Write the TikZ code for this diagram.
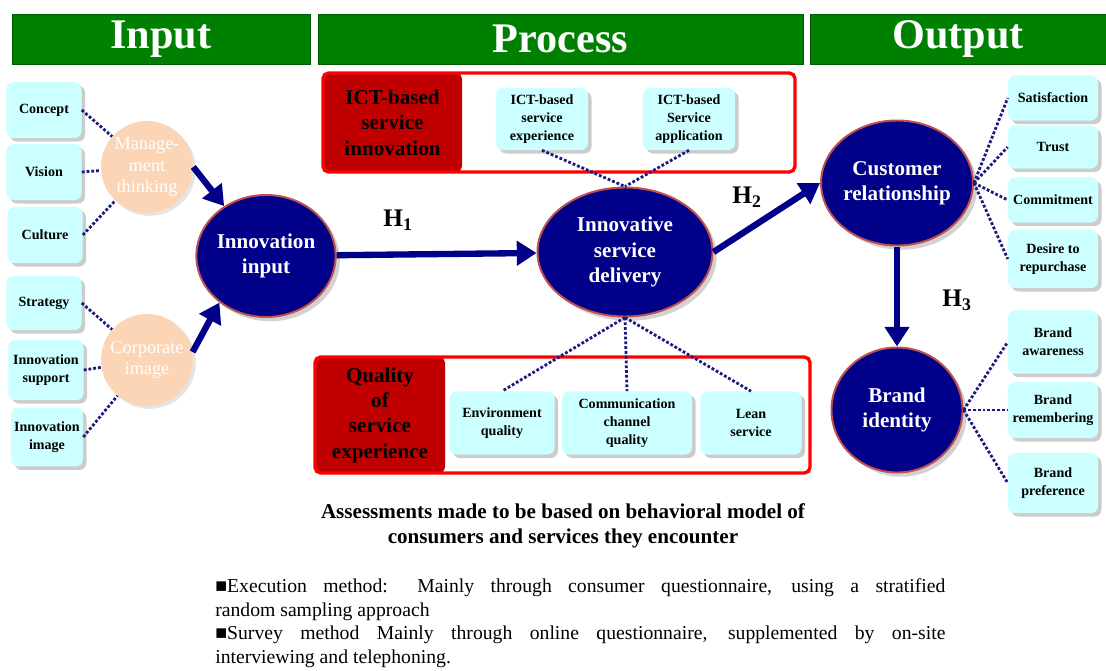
\documentclass[tikz,border=0pt]{standalone}
\usepackage{fontspec}
\setmainfont{Liberation Serif}
\usetikzlibrary{positioning,arrows.meta,shapes.geometric,shadows}
\definecolor{hdgreen}{HTML}{008000}
\definecolor{lfcyan}{HTML}{CCFFFF}
\definecolor{peach}{HTML}{FBD5B5}
\definecolor{hubnavy}{HTML}{000088}
\definecolor{hubrim}{HTML}{C0504D}
\definecolor{labred}{HTML}{C00000}
\definecolor{frred}{HTML}{FF0000}
\definecolor{dotnavy}{HTML}{1A1A80}
\newcommand{\fs}[2]{\fontsize{#1}{#2}\selectfont}
\newcommand{\hyp}[1]{\textbf{H}\textsubscript{\textbf{#1}}}

\begin{document}
\begin{tikzpicture}[x=0.025cm,y=-0.025cm,
  hd/.style={rectangle,fill=hdgreen,draw=hdgreen!70!black,text=white,font=\bfseries\fs{30}{32},inner sep=0pt,minimum height=1.25cm},
  leaf/.style={rectangle,rounded corners=5pt,fill=lfcyan,drop shadow={shadow xshift=2.5pt,shadow yshift=-2.5pt,fill=black!40},align=center,font=\bfseries\fs{10}{13},inner sep=1pt},
  pch/.style={circle,fill=peach,drop shadow={shadow xshift=2pt,shadow yshift=-2pt,fill=black!20},text=white,align=center,font=\fs{13}{15},inner sep=0pt,minimum size=2.3cm},
  hub/.style={ellipse,fill=hubnavy,draw=hubrim,line width=1.4pt,drop shadow={shadow xshift=3pt,shadow yshift=-3pt,fill=black!35},text=white,align=center,font=\bfseries\fs{15}{18},inner sep=0pt},
  lab/.style={rectangle,rounded corners=4pt,fill=labred,align=center,font=\bfseries\fs{15}{18},inner sep=0pt},
  fr/.style={draw=frred,line width=2.4pt,rounded corners=4pt},
  dt/.style={draw=dotnavy,line width=2pt,dash pattern=on 2pt off 1.4pt},
  big/.style={draw=hubnavy,line width=4.5pt,-{Triangle[length=14pt,width=17pt]}},
  hl/.style={font=\fs{18}{20}}]
  \useasboundingbox (0,0) rectangle (1106,671);
  % headers
  \node[hd,minimum width=7.45cm] (hin) at (161,39) {Input};
  \node[hd,minimum width=12.125cm] (hpr) at (560.5,39) {Process};
  \node[hd,minimum width=7.4cm] (hout) at (958,39) {Output};
  % input side
  \node[leaf,minimum width=1.875cm,minimum height=1.4cm] (concept) at (44,110) {Concept};
  \node[leaf,minimum width=1.875cm,minimum height=1.4cm] (vision) at (44,172) {Vision};
  \node[leaf,minimum width=1.875cm,minimum height=1.4cm] (culture) at (45,235) {Culture};
  \node[leaf,minimum width=1.875cm,minimum height=1.35cm] (strat) at (44,303) {Strategy};
  \node[leaf,minimum width=1.875cm,minimum height=1.5cm] (isup) at (46,370) {Innovation\\support};
  \node[leaf,minimum width=1.8cm,minimum height=1.47cm] (iimg) at (47,437) {Innovation\\image};
  \node[pch] (mgmt) at (147,167) {Manage-\\ment\\thinking};
  \node[pch] (corp) at (147,360) {Corporate\\image};
  \node[hub,minimum width=3.175cm,minimum height=3.05cm] (inp) at (266,256) {Innovation\\input};
  % process
  \node[lab,minimum width=3.475cm,minimum height=2.475cm] (ictlab) at (392.5,122.5) {ICT-based\\service\\innovation};
  \draw[fr] (323,73) rectangle (795,172);
  \node[leaf,minimum width=2.3cm,minimum height=1.55cm] (ictexp) at (542,119) {ICT-based\\service\\experience};
  \node[leaf,minimum width=2.3cm,minimum height=1.55cm] (ictapp) at (689,119) {ICT-based\\Service\\application};
  \node[hub,minimum width=4.375cm,minimum height=3.225cm] (isd) at (625,252) {Innovative\\service\\delivery};
  \node[lab,minimum width=3.25cm,minimum height=2.9cm] (qlab) at (380,415) {Quality\\of\\service\\experience};
  \draw[fr] (315,357) rectangle (810,473);
  \node[leaf,minimum width=2.625cm,minimum height=1.575cm] (env) at (502,423) {Environment\\quality};
  \node[leaf,minimum width=3.25cm,minimum height=1.575cm] (comm) at (627,423) {Communication\\channel\\quality};
  \node[leaf,minimum width=2.525cm,minimum height=1.575cm] (lean) at (751,423) {Lean\\service};
  % output
  \node[hub,minimum width=3.275cm,minimum height=3.125cm] (cr) at (897,183) {Customer\\relationship};
  \node[hub,minimum width=3.275cm,minimum height=3.125cm] (bi) at (897,410) {Brand\\identity};
  \node[leaf,minimum width=2.25cm,minimum height=1.125cm] (sat) at (1053,98) {Satisfaction};
  \node[leaf,minimum width=2.25cm,minimum height=1.075cm] (trust) at (1053,147) {Trust};
  \node[leaf,minimum width=2.25cm,minimum height=1.125cm] (commit) at (1053,200) {Commitment};
  \node[leaf,minimum width=2.25cm,minimum height=1.45cm] (desire) at (1053,259) {Desire to\\repurchase};
  \node[leaf,minimum width=2.25cm,minimum height=1.575cm] (aware) at (1053,342) {Brand\\awareness};
  \node[leaf,minimum width=2.25cm,minimum height=1.4cm] (remem) at (1053,410) {Brand\\remembering};
  \node[leaf,minimum width=2.25cm,minimum height=1.5cm] (pref) at (1053,483) {Brand\\preference};
  % dotted links
  \draw[dt] (concept.east) -- (mgmt); \draw[dt] (vision.east) -- (mgmt); \draw[dt] (culture.east) -- (mgmt);
  \draw[dt] (strat.east) -- (corp); \draw[dt] (isup.east) -- (corp); \draw[dt] (iimg.east) -- (corp);
  \draw[dt] (ictexp.south) -- (isd.north); \draw[dt] (ictapp.south) -- (isd.north);
  \draw[dt] (isd.south) -- (env.north); \draw[dt] (isd.south) -- (comm.north); \draw[dt] (isd.south) -- (lean.north);
  \draw[dt] (cr.east) -- (sat.west); \draw[dt] (cr.east) -- (trust.west);
  \draw[dt] (cr.east) -- (commit.west); \draw[dt] (cr.east) -- (desire.west);
  \draw[dt] (bi.east) -- (aware.west); \draw[dt] (bi.east) -- (remem.west); \draw[dt] (bi.east) -- (pref.west);
  % hypotheses
  \draw[big] (mgmt.east) -- (inp.130);
  \draw[big] (corp.10) -- (inp.-135);
  \draw[big] (inp) -- (isd);
  \draw[big] (isd.east) -- (cr.west);
  \draw[big] (cr.south) -- (bi.north);
  \node[hl] (h1) at (398,220) {\hyp{1}};
  \node[hl] (h2) at (747,197) {\hyp{2}};
  \node[hl] (h3) at (957,300) {\hyp{3}};
  % notes
  \node[align=center,font=\bfseries\fs{15}{18}] (assess) at (563,526) {Assessments made to be based on behavioral model of\\consumers and services they encounter};
  \node[anchor=north west,inner sep=0pt,text width=18.25cm,align=justify,font=\fs{14}{17}] (note) at (215,578)
    {■Execution method: Mainly through consumer questionnaire, using a stratified\linebreak random sampling approach\\
     ■Survey method  Mainly through online questionnaire, supplemented by on-site\linebreak interviewing and telephoning.};
\end{tikzpicture}
\end{document}
